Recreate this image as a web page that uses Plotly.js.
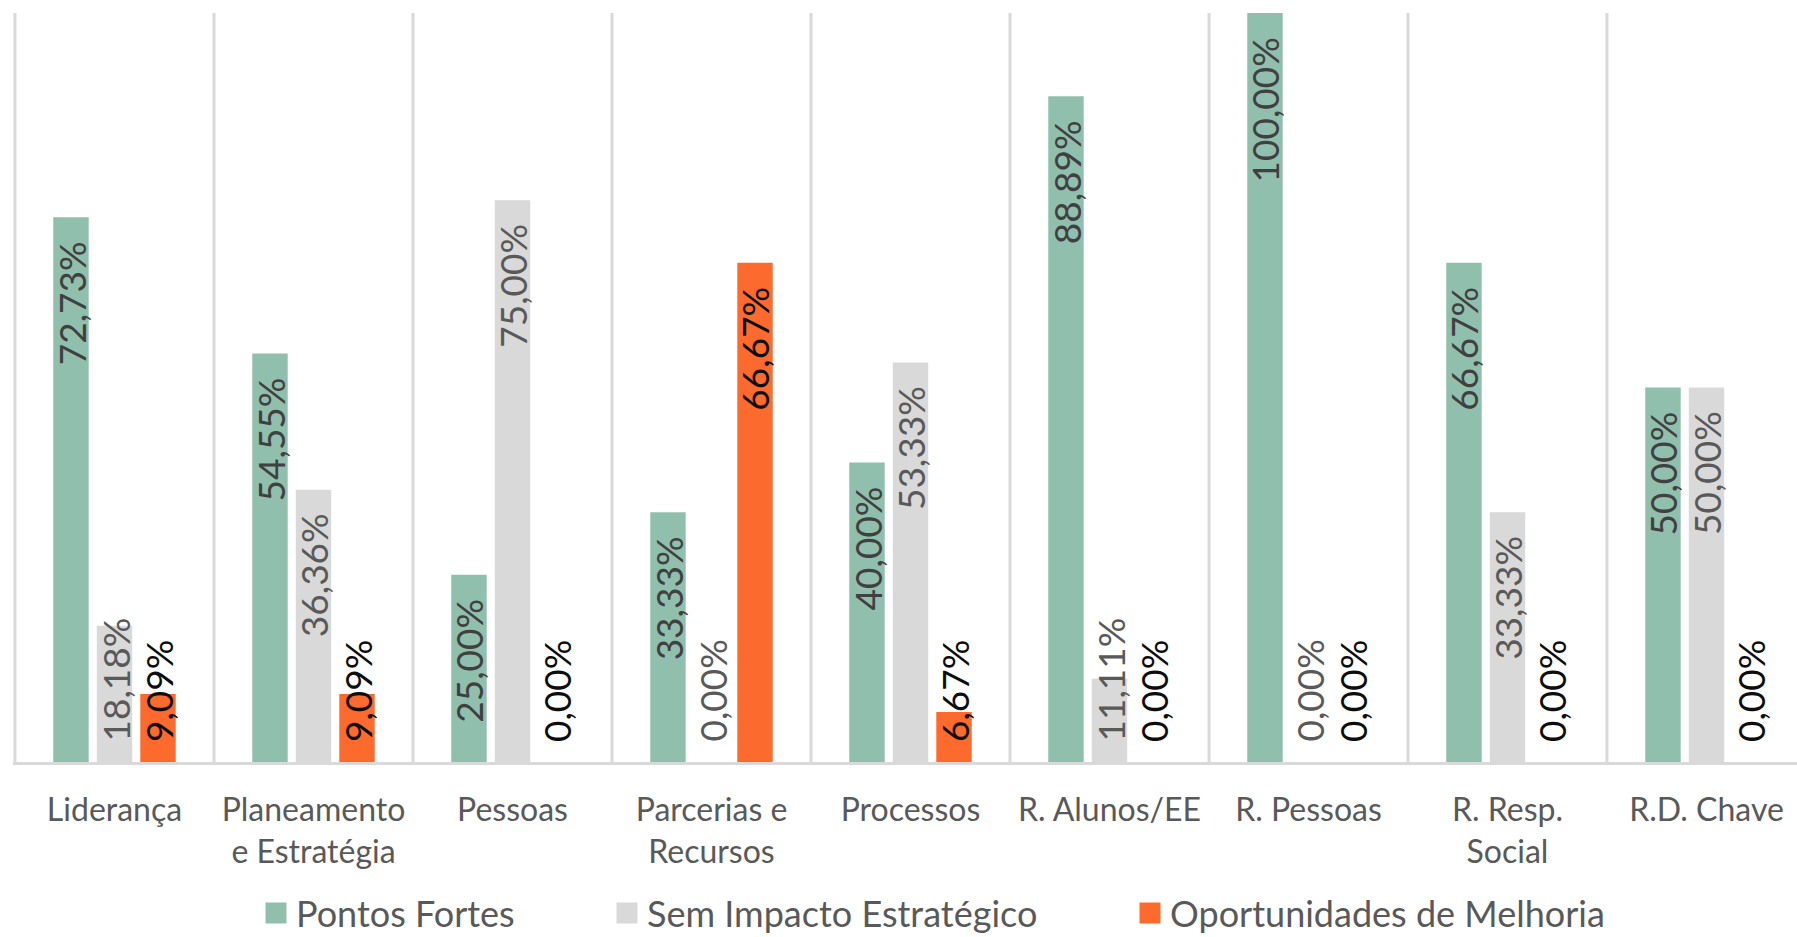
<!DOCTYPE html>
<html><head><meta charset="utf-8">
<script src="https://cdn.plot.ly/plotly-3.0.1.min.js"></script>
<style>html,body{margin:0;padding:0;background:#fff;} #chart{width:1797px;height:937px;}</style>
</head><body><div id="chart"></div>
<script>
// ---- data ----
const categories = ["Liderança", "Planeamento<br>e Estratégia", "Pessoas", "Parcerias e<br>Recursos", "Processos", "R. Alunos/EE", "R. Pessoas", "R. Resp.<br>Social", "R.D. Chave"];
const seriesNames = ["Pontos Fortes", "Sem Impacto Estratégico", "Oportunidades de Melhoria"];
const pontosFortes = [72.73, 54.55, 25.00, 33.33, 40.00, 88.89, 100.00, 66.67, 50.00];
const semImpacto = [18.18, 36.36, 75.00, 0.00, 53.33, 11.11, 0.00, 33.33, 50.00];
const oportunidades = [9.09, 9.09, 0.00, 66.67, 6.67, 0.00, 0.00, 0.00, 0.00];

// ---- styles ----
const seriesValues = [pontosFortes, semImpacto, oportunidades];
const barColors = ["#91BFAD", "#D9D9D9", "#FD6A2D"];
const labelColors = ["#404040", "#595959", "#0d0d0d"];
const FONT = "Lato, 'Open Sans', sans-serif";
const W = 1797, H = 937;
const mL = 13, mT = 13, plotH = 749;
const plotW = W - mL;
const mB = H - mT - plotH;
const pxPerCat = 199;
const r0 = -0.5 - 2 / pxPerCat;
const r1 = r0 + plotW / pxPerCat;
const bargap = 0.344, bargroupgap = 0.186;
const labelSize = 37, topPad = 23, bottomPad = 19;

const idx = categories.map((c, i) => i);
const fmt = v => v.toFixed(2).replace('.', ',') + '%';

const cv = document.createElement('canvas').getContext('2d');
cv.font = labelSize + 'px Lato';
const measure = t => cv.measureText(t).width;

const traces = [];
const legendIds = ['legend', 'legend2', 'legend3'];
seriesValues.forEach((vals, s) => {
  traces.push({
    type: 'bar', x: idx, y: vals, name: seriesNames[s],
    marker: {color: barColors[s], line: {width: 0}},
    showlegend: false, hoverinfo: 'skip'
  });
});
// legend entries
seriesValues.forEach((vals, s) => {
  traces.push({
    type: 'scatter', mode: 'markers', x: [null], y: [null], name: seriesNames[s],
    marker: {symbol: 'square', size: 16, color: barColors[s], line: {color: barColors[s], width: 5}},
    legend: legendIds[s], showlegend: true, hoverinfo: 'skip'
  });
});

// value labels (rotated), inside end like the original
const annotations = [];
const nS = seriesValues.length;
const slot = (1 - bargap) / nS;
seriesValues.forEach((vals, s) => {
  const off = -(1 - bargap) / 2 + slot * (s + 0.5);
  vals.forEach((v, i) => {
    const t = fmt(v);
    const len = measure(t);
    const barPx = v / 100 * plotH;
    const fits = barPx - topPad - len >= bottomPad + 4;
    annotations.push({
      x: i + off, xref: 'x', yref: 'y',
      y: fits ? v : 0,
      yanchor: fits ? 'top' : 'bottom',
      yshift: fits ? -topPad : bottomPad,
      xanchor: 'center',
      text: t, textangle: -90, showarrow: false, borderpad: 0,
      font: {family: FONT, size: labelSize, color: labelColors[s]}
    });
  });
});

// vertical separators between categories
const shapes = [];
for (let k = 0; k <= categories.length; k++) {
  shapes.push({type: 'line', xref: 'x', yref: 'paper', x0: k - 0.5, x1: k - 0.5, y0: 0, y1: 1,
    line: {color: '#D9D9D9', width: 3}, layer: 'below'});
}

const legendX = [276, 627, 1150];
const legendBase = {orientation: 'h', xref: 'container', yref: 'container', xanchor: 'left', yanchor: 'middle',
  y: 1 - 913 / H, bgcolor: 'rgba(0,0,0,0)', font: {family: FONT, size: 36, color: '#595959'}, itemclick: false};

const layout = {
  width: W, height: H,
  margin: {l: mL, r: 0, t: mT, b: mB, pad: 0},
  paper_bgcolor: '#fff', plot_bgcolor: '#fff',
  barmode: 'group', bargap: bargap, bargroupgap: bargroupgap,
  xaxis: {range: [r0, r1], tickvals: idx, ticktext: categories, showgrid: false, zeroline: false,
    showline: true, linecolor: '#D9D9D9', linewidth: 3, ticks: '', ticklabelstandoff: 18,
    tickfont: {family: FONT, size: 32, color: '#595959'}, fixedrange: true},
  yaxis: {range: [0, 100], showgrid: false, zeroline: false, showticklabels: false, showline: false, ticks: '', fixedrange: true},
  showlegend: true,
  legend: Object.assign({}, legendBase, {x: (legendX[0] - 20) / W}),
  legend2: Object.assign({}, legendBase, {x: (legendX[1] - 20) / W}),
  legend3: Object.assign({}, legendBase, {x: (legendX[2] - 20) / W}),
  annotations: annotations, shapes: shapes
};

Plotly.newPlot('chart', traces, layout, {displayModeBar: false, staticPlot: true});
</script>
</body></html>
